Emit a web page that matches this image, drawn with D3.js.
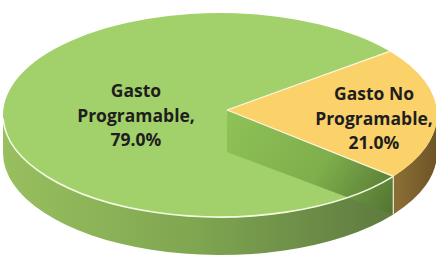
<!DOCTYPE html>
<html>
<head>
<meta charset="utf-8">
<script src="https://cdn.jsdelivr.net/npm/d3@7"></script>
<style>
  html, body { margin: 0; padding: 0; background: #fff; }
  svg text { font-family: "Open Sans", sans-serif; font-weight: 700; fill: #1e1e1e; }
</style>
</head>
<body>
<svg id="chart" width="436" height="258"></svg>
<script>
// data
const categories = ['Gasto Programable', 'Gasto No Programable'];
const values = [79.0, 21.0];
const labelLines = [['Gasto', 'Programable,', '79.0%'], ['Gasto No', 'Programable,', '21.0%']];
const topColors = ['#a2d06a', '#fbd26a'];

const W = 436, H = 258;
const CX = 220, CY = 115, RX = 217, RY = 102, DEPTH = 38;
const APEX = [227, 110];   // perspective shifts the center a bit
const deg = Math.PI / 180;

const svg = d3.select('#chart');
const defs = svg.append('defs');

function grad(id, stops, x1, y1, x2, y2) {
    const g = defs.append('linearGradient').attr('id', id)
        .attr('gradientUnits', 'userSpaceOnUse')
        .attr('x1', x1).attr('y1', y1).attr('x2', x2).attr('y2', y2);
    stops.forEach(([o, c]) => g.append('stop').attr('offset', o).attr('stop-color', c));
}
grad('side-green', [[0, '#98c05f'], [0.45, '#7fa650'], [0.85, '#627f41'], [1, '#5a763b']], 0, 0, 436, 0);
grad('side-yellow', [[0, '#8a6d34'], [1, '#6e5527']], 398, 0, 436, 0);
grad('wall-green', [[0, '#8fc257'], [0.55, '#7fae4c'], [1, '#4f7030']], 227, 110, 398, 216);

const pie = d3.pie().sort(null).value(d => d)
    .startAngle(127 * deg).endAngle(127 * deg + 2 * Math.PI);
const arcs = pie(values);

const pt = (a, dy = 0) => [CX + RX * Math.sin(a), CY - RY * Math.cos(a) + dy];

function topPath(d) {
    const p0 = pt(d.startAngle), p1 = pt(d.endAngle);
    const large = d.endAngle - d.startAngle > Math.PI ? 1 : 0;
    return `M${APEX}L${p0}A${RX},${RY} 0 ${large} 1 ${p1}Z`;
}

function sidePath(a0, a1) {
    const p0 = pt(a0), p1 = pt(a1), q0 = pt(a0, DEPTH), q1 = pt(a1, DEPTH);
    return `M${p0}A${RX},${RY} 0 0 1 ${p1}L${q1}A${RX},${RY} 0 0 0 ${q0}Z`;
}

// visible front side: angles between 90 and 270 degrees
function frontRange(d) {
    let a0 = d.startAngle % (2 * Math.PI), a1 = a0 + (d.endAngle - d.startAngle);
    const s = Math.max(a0, 90 * deg), e = Math.min(a1, 270 * deg);
    if (e > s) return [s, e];
    const s2 = Math.max(a0, 450 * deg), e2 = Math.min(a1, 630 * deg);
    return e2 > s2 ? [s2, e2] : null;
}

const sideFills = ['url(#side-green)', 'url(#side-yellow)'];
arcs.forEach((d, i) => {
    const r = frontRange(d);
    if (r) svg.append('path').attr('d', sidePath(r[0], r[1])).attr('fill', sideFills[i]);
});

// top faces
svg.selectAll('path.top').data(arcs).join('path')
    .attr('class', 'top')
    .attr('d', topPath)
    .attr('fill', (d, i) => topColors[i]);

// cut wall of the big slice under the boundary with the small one
const cut = arcs[0].startAngle;
const rc = pt(cut), rcb = pt(cut, DEPTH);
svg.append('path')
    .attr('d', `M${APEX}L${rc}L${rcb}L${[APEX[0], APEX[1] + DEPTH + 4]}Z`)
    .attr('fill', 'url(#wall-green)');

// highlight lines
svg.append('path')
    .attr('d', `M${pt(268 * deg)}A${RX},${RY} 0 0 0 ${rc}`)
    .attr('fill', 'none').attr('stroke', '#f3fbe2').attr('stroke-width', 1.6);
arcs.forEach(d => {
    svg.append('line')
        .attr('x1', APEX[0]).attr('y1', APEX[1])
        .attr('x2', pt(d.startAngle)[0]).attr('y2', pt(d.startAngle)[1])
        .attr('stroke', '#fbf6dc').attr('stroke-width', 1.2);
});
svg.append('line')
    .attr('x1', rc[0]).attr('y1', rc[1]).attr('x2', rcb[0]).attr('y2', rcb[1])
    .attr('stroke', '#e9efd6').attr('stroke-width', 1.2);

// labels
const labelPos = [[136, 97], [374, 100]];
arcs.forEach((d, i) => {
    const t = svg.append('text')
        .attr('text-anchor', 'middle')
        .attr('font-size', 17.5);
    labelLines[i].forEach((s, j) => {
        t.append('tspan').attr('x', labelPos[i][0]).attr('y', labelPos[i][1] + j * 24.5).text(s);
    });
});
</script>
</body>
</html>
